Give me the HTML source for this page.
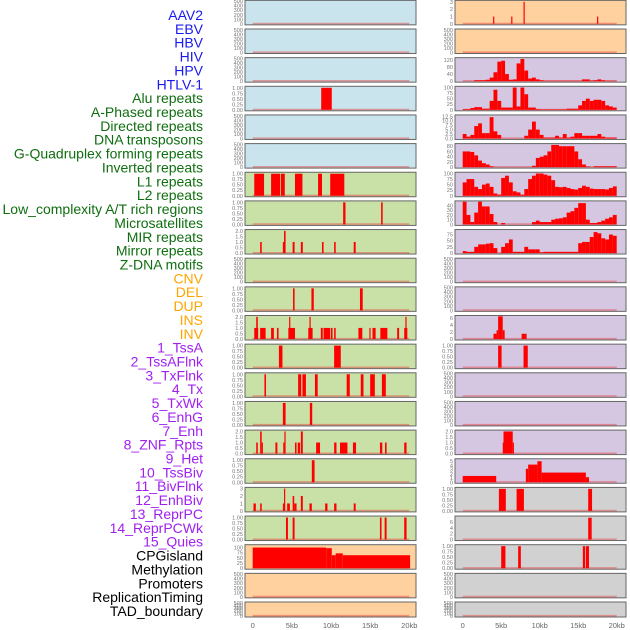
<!DOCTYPE html>
<html><head><meta charset="utf-8"><style>
html,body{margin:0;padding:0;background:#fff;}
#wrap{position:relative;width:630px;height:630px;overflow:hidden;}
svg{position:absolute;left:0;top:0;}
.lbl{font-family:"Liberation Sans",sans-serif;font-size:14px;}
.tk{font-family:"Liberation Sans",sans-serif;font-size:5.6px;fill:#777;}
.ax{font-family:"Liberation Sans",sans-serif;font-size:7.5px;fill:#666;}
</style></head><body>
<div id="wrap">
<svg id="chart" width="630" height="630" viewBox="0 0 630 630"></svg>
</div>
<script>
// ---------- DATA ----------
const trackLabels = ["AAV2","EBV","HBV","HIV","HPV","HTLV-1","Alu repeats","A-Phased repeats","Directed repeats","DNA transposons","G-Quadruplex forming repeats","Inverted repeats","L1 repeats","L2 repeats","Low_complexity A/T rich regions","Microsatellites","MIR repeats","Mirror repeats","Z-DNA motifs","CNV","DEL","DUP","INS","INV","1_TssA","2_TssAFlnk","3_TxFlnk","4_Tx","5_TxWk","6_EnhG","7_Enh","8_ZNF_Rpts","9_Het","10_TssBiv","11_BivFlnk","12_EnhBiv","13_ReprPC","14_ReprPCWk","15_Quies","CPGisland","Methylation","Promoters","ReplicationTiming","TAD_boundary"];
const labelGroups = ["v","v","v","v","v","v","r","r","r","r","r","r","r","r","r","r","r","r","r","s","s","s","s","s","c","c","c","c","c","c","c","c","c","c","c","c","c","c","c","o","o","o","o","o"];
const xTickKb = [0,5,10,15,20];
const xTickLabels = ["0","5kb","10kb","15kb","20kb"];

// y tick sets
const ticks500 = [0,100,200,300,400,500];
const ticks1 = [0,0.25,0.5,0.75,1];
const ticks1Lab = ["0.00","0.25","0.50","0.75","1.00"];
const ticks2 = [0,0.5,1,1.5,2];
const ticks2Lab = ["0.0","0.5","1.0","1.5","2.0"];

// left column segments [startKb, endKb, value]
const L04 = [[8.75,10.1,1]];
const L07 = [[0.2,1.45,1],[2.35,3.5,1],[3.6,4.1,1],[5.4,6.35,1],[8.35,8.85,1],[9.9,11.7,1]];
const L08 = [[11.55,11.85,1],[16.4,16.6,1]];
const L09 = [[0.95,1.15,1],[3.85,4.1,1],[4.0,4.2,2],[5.1,5.35,1],[6.15,6.4,1],[8.85,9.05,1],[10.4,10.6,1],[12.9,13.15,1]];
const L11 = [[5.15,5.35,1],[7.5,7.8,1],[13.7,14.05,1]];
const L12 = [[0.2,0.7,1],[0.45,0.65,2],[0.95,1.65,1],[2.35,2.7,1],[3.1,3.3,1],[4.55,5.4,1],[4.65,4.8,2],[7.1,7.65,1],[7.25,7.4,2],[8.7,8.95,1],[9.05,9.9,1],[10.0,10.2,1],[10.4,10.6,1],[13.5,14.0,1],[14.9,15.05,1],[15.3,15.7,1],[16.3,17.2,1],[18.45,18.7,1],[19.35,19.75,1],[19.5,19.6,2]];
const L13 = [[3.35,3.8,1],[10.4,11.25,1]];
const L14 = [[1.5,1.7,1],[5.8,6.2,1],[6.35,6.8,1],[7.95,8.3,1],[12.0,12.4,1],[13.8,14.15,1],[15.0,15.6,1],[16.5,17.0,1]];
const L15 = [[3.85,4.2,1],[7.3,7.6,1]];
const L16 = [[0.45,0.65,1],[0.95,1.15,2],[1.15,1.25,1],[2.9,3.15,1],[3.9,4.05,1],[4.05,4.2,2],[5.4,5.6,1],[5.75,6.05,1],[6.15,6.4,2],[8.1,8.6,1],[10.4,10.7,1],[11.15,12.1,1],[12.8,13.2,1],[16.25,16.55,1],[16.9,17.1,1],[19.35,19.65,1]];
const L17 = [[7.55,7.9,1]];
const L18 = [[0.1,0.4,1],[0.95,1.15,1],[3.85,4.0,1],[4.0,4.15,3],[4.4,4.75,1],[5.1,5.3,2],[5.3,5.6,1],[6.15,6.4,2],[7.25,7.55,1],[9.25,9.55,1],[10.4,10.7,1],[12.9,13.15,1]];
const L19 = [[4.25,4.5,1],[5.1,5.35,1],[16.25,16.45,1],[16.85,17.1,1],[19.35,19.65,1]];
const L20 = [[0,9.4,100],[9.4,10.1,97],[10.1,10.6,63],[10.6,11.5,72],[11.5,20.1,63]];

// right column segments
const R01 = [[3.95,4.1,1],[6.3,6.45,1],[7.9,8.05,3],[17.45,17.6,1]];
const R12 = [[4.0,4.4,1.5],[4.4,4.6,2.5],[4.6,5.2,6.5],[5.2,5.45,2.5],[7.65,8.3,1.5]];
const R13 = [[4.6,5.05,1],[7.9,8.45,1]];
const R16 = [[5.2,5.3,1],[5.3,6.5,2],[6.5,6.65,1]];
const R17 = [[0,4.35,1.5],[8.2,8.5,3.2],[8.5,9.7,4.2],[9.7,10.25,5],[10.25,16,2.3],[16,16.4,1.2]];
const R18 = [[4.7,5.6,1],[7.0,7.95,1],[16.3,16.8,1]];
const R19 = [[16.3,16.75,7.5]];
const R20 = [[5.0,5.55,1],[7.2,7.55,1],[15.6,15.9,1],[16.0,16.4,1]];

// right column binned distributions (0.5 kb bins, 0..20kb)
const R03 = [0,0,0,5,5,5,8,20,50,110,115,40,8,10,100,125,60,15,20,10,5,2,2,2,2,2,2,2,2,2,2,10,10,3,5,10,5,2,2,2];
const R04 = [3,3,8,12,12,5,5,40,90,40,10,10,10,100,15,100,70,10,10,3,2,2,2,2,2,2,2,5,5,5,20,40,50,40,45,45,40,20,15,10];
const R05 = [2.5,1,2,7,8.5,3,3,12,4,2,0,0,0,0,0,0,1.5,5,9.5,5,2,0.5,0.5,0.5,1.5,0.5,2.5,0.5,1,3,3,1.5,1.5,1.5,1.5,2.5,1,0.5,0.5,0.5];
const R06 = [60,60,58,45,25,15,10,3,0,0,0,0,0,0,0,0,0,0,5,35,40,45,60,85,85,80,80,80,80,60,30,10,2,0,3,3,3,3,3,3];
const R07 = [60,75,75,40,30,50,55,40,10,5,80,90,60,20,15,5,30,75,90,100,100,95,90,70,40,38,40,35,30,28,35,45,40,32,30,30,30,28,35,42];
const R08 = [48,20,5,25,48,38,38,22,5,0,3,0,0,0,0,0,0,0,5,8,5,5,5,10,12,13,15,25,28,35,45,45,10,3,3,5,8,12,15,20];
const R09 = [8,5,5,25,35,35,38,40,20,0,25,40,55,5,5,5,25,15,15,15,3,5,5,5,5,5,5,5,5,5,40,45,45,65,85,80,60,55,75,70];

// ---------- LAYOUT ----------
const svg = document.getElementById('chart');
const NS = 'http://www.w3.org/2000/svg';
function mk(tag, attrs){ const e=document.createElementNS(NS,tag); for(const k in attrs) e.setAttribute(k,attrs[k]); return e; }

const colColors = {blue:'#c9e4ec',green:'#c9e1a7',peach:'#ffd19f',purple:'#d5c6e2',gray:'#d1d1d1'};
const leftFill = i => i<6?colColors.blue:(i<19?colColors.green:colColors.peach);
const rightFill = i => i<2?colColors.peach:(i<17?colColors.purple:colColors.gray);
const cols = [
  {x0:245,x1:416,kb0:252.7,pxKb:7.83,fill:leftFill,name:'left'},
  {x0:455,x1:626,kb0:462.7,pxKb:7.7,fill:rightFill,name:'right'}
];
function rowTop(i){ return 0.35 + i*28.65; }
function rowH(i){ return i===21?15:24.5; }

// panel specs: [segments|bins, ymax, ticks, tickLabels, isBins]
function spec(d,ymax,t,tl,bins){ return {d:d,ymax:ymax,t:t,tl:tl,bins:!!bins}; }
const E = ()=>spec([],500,ticks500,ticks500.map(String));
const leftSpecs = [E(),E(),E(),spec(L04,1.03,ticks1,ticks1Lab),E(),E(),
  spec(L07,1.03,ticks1,ticks1Lab),spec(L08,1.03,ticks1,ticks1Lab),spec(L09,2.05,ticks2,ticks2Lab),E(),
  spec(L11,1.03,ticks1,ticks1Lab),spec(L12,2.05,ticks2,ticks2Lab),spec(L13,1.03,ticks1,ticks1Lab),spec(L14,1.03,ticks1,ticks1Lab),
  spec(L15,1.03,ticks1,ticks1Lab),spec(L16,2.05,ticks2,ticks2Lab),spec(L17,1.03,ticks1,ticks1Lab),spec(L18,3.05,[0,1,2,3],["0","1","2","3"]),
  spec(L19,1.03,ticks1,ticks1Lab),spec(L20,110,[0,25,50,75,100],["0","25","50","75","100"]),E(),E()];
const rightSpecs = [spec(R01,3.1,[0,1,2,3],["0","1","2","3"]),E(),
  spec(R03,128,[0,40,80,120],["0","40","80","120"],true),
  spec(R04,102,[0,25,50,75,100],["0","25","50","75","100"],true),
  spec(R05,12.8,[0,2.5,5,7.5,10,12.5],["0.0","2.5","5.0","7.5","10.0","12.5"],true),
  spec(R06,87,[0,20,40,60,80],["0","20","40","60","80"],true),
  spec(R07,102,[0,25,50,75,100],["0","25","50","75","100"],true),
  spec(R08,48,[0,10,20,30,40],["0","10","20","30","40"],true),
  spec(R09,92,[0,25,50,75],["0","25","50","75"],true),
  E(),E(),
  spec(R12,6.5,[0,2,4,6],["0","2","4","6"]),spec(R13,1.03,ticks1,ticks1Lab),E(),E(),
  spec(R16,2.05,ticks2,ticks2Lab),spec(R17,5.4,[0,1,2,3,4,5],["0","1","2","3","4","5"]),
  spec(R18,1.03,ticks1,ticks1Lab),spec(R19,7.8,[0,2,4,6],["0","2","4","6"]),spec(R20,1.03,ticks1,ticks1Lab),E(),E()];

// labels
const groupColor = {v:'#1a1aee',r:'#0f6e0f',s:'#ffa500',c:'#a020f0',o:'#000000'};
trackLabels.forEach((t,i)=>{
  const tx = mk('text',{x:203,y:(15+i*13.86+5).toFixed(2),'text-anchor':'end',class:'lbl',fill:groupColor[labelGroups[i]]});
  tx.textContent=t;
  
  
  svg.appendChild(tx);
});

// panels
cols.forEach((c,ci)=>{
  const specs = ci===0?leftSpecs:rightSpecs;
  specs.forEach((s,i)=>{
    const top=rowTop(i), h=rowH(i), bot=top+h;
    const y0=bot-1, y1=top+0.8;
    const ys = v => y0 - (v/s.ymax)*(y0-y1);
    const xs = kb => c.kb0 + kb*c.pxKb;
    const g = mk('g',{});
    
    
    const bg = mk('rect',{x:c.x0,y:top,width:c.x1-c.x0,height:h,fill:c.fill(i),stroke:'#666','stroke-width':1});
    
    
    g.appendChild(bg);
    const base = mk('line',{x1:xs(0),x2:xs(20),y1:y0-0.3,y2:y0-0.3,stroke:'rgba(230,60,60,0.45)','stroke-width':1.6});
    
    
    g.appendChild(base);
    const segs = s.bins ? s.d.map((v,k)=>[k*0.5,k*0.5+0.5,v]) : s.d;
    segs.forEach(sg=>{
      if(sg[2]<=0) return;
      const xa=xs(sg[0]), xb=xs(sg[1]);
      const w=Math.max(xb-xa,1.2);
      const r = mk('rect',{x:xa.toFixed(2),y:ys(sg[2]).toFixed(2),width:w.toFixed(2),height:(y0-ys(sg[2])).toFixed(2),fill:'#ff0000'});
      
      
      g.appendChild(r);
    });
    s.t.forEach((tv,k)=>{
      const tt = mk('text',{x:c.x0-2,y:(ys(tv)+2).toFixed(2),'text-anchor':'end',class:'tk'});
      tt.textContent = s.tl[k];
      
      
      g.appendChild(tt);
    });
    svg.appendChild(g);
  });
  xTickKb.forEach((kb,k)=>{
    const t = mk('text',{x:(c.kb0+kb*c.pxKb).toFixed(2),y:628,'text-anchor':'middle',class:'ax'});
    t.textContent = xTickLabels[k];
    
    
    svg.appendChild(t);
  });
});
</script>
</body></html>
